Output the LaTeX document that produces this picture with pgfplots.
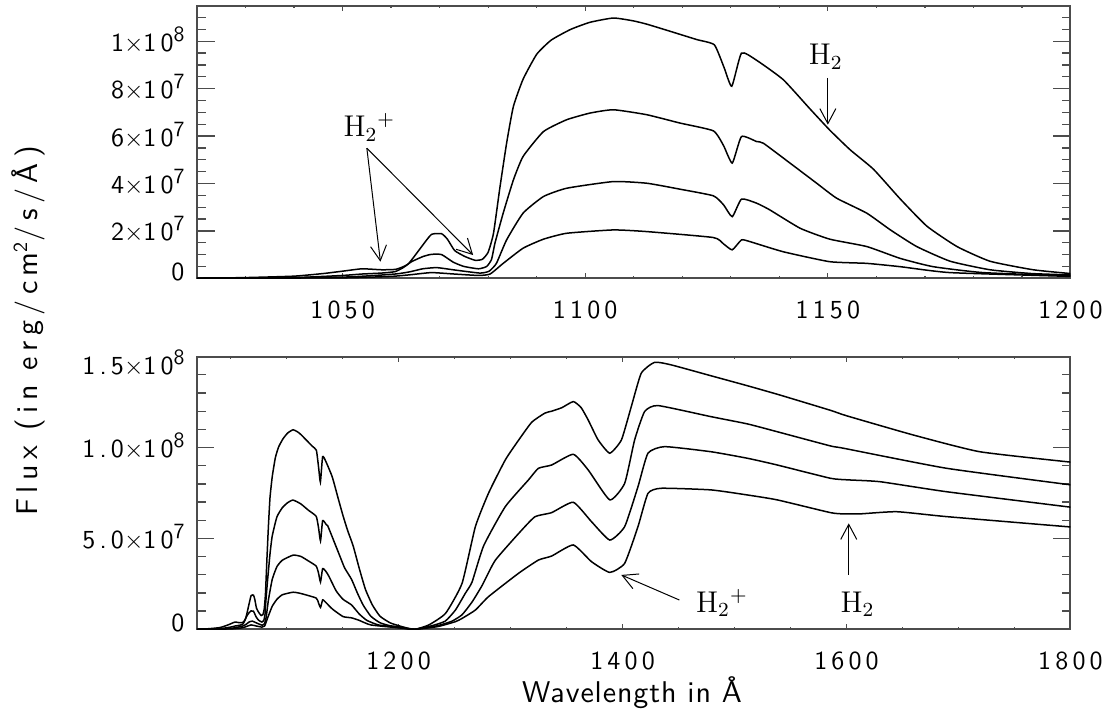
\documentclass[border=0pt]{standalone}
\usepackage{fontspec}
\usepackage{pgfplots}
\pgfplotsset{compat=1.18}
\usepackage{pgfplotstable}
\usetikzlibrary{arrows.meta}

% IDL-like sans for ticks and axis titles
\newfontfamily\hershey{lmsans10-regular.otf}[LetterSpace=16]
\newfontfamily\hersheylab{lmsans10-regular.otf}[LetterSpace=18]
\newfontfamily\hersheyx{lmsans10-regular.otf}[LetterSpace=3]
\newcommand\tickfont{\hershey\fontsize{10.4pt}{12pt}\selectfont}
\newcommand\labfont{\hersheylab\fontsize{12pt}{14pt}\selectfont}
\newcommand\xlabfont{\hersheyx\fontsize{12pt}{14pt}\selectfont}
\newcommand\annfont{\fontsize{12pt}{14pt}\selectfont}
\newcommand\E[1]{\raisebox{4pt}{\fontsize{8.7pt}{9pt}\selectfont #1}}
\newcommand\Hp{$\mathrm{H}_2{}^{+}$}
\newcommand\Hm{$\mathrm{H}_2$}

% flux in units of 1e7 erg/cm2/s/A
\pgfplotstableread{
x y
1020 0
1030 0.03
1040 0.09
1046 0.2
1050 0.3
1054 0.4
1058 0.36
1061 0.38
1063.5 0.6
1066.3 1.34
1068.3 1.85
1070.4 1.88
1071.6 1.65
1073.1 1.17
1075.2 0.92
1077.3 0.76
1078.8 0.8
1080 1.1
1081.1 1.9
1082.4 3.8
1083.8 5.7
1085.2 7.25
1087.2 8.4
1090 9.45
1093 10.05
1097 10.5
1101 10.8
1105.8 10.98
1109.9 10.86
1112.7 10.72
1117.5 10.42
1123 10.07
1126.6 9.85
1128.6 8.9
1130.2 8.1
1132.2 9.5
1135.3 9.2
1140.8 8.38
1146.3 7.15
1150.4 6.25
1154.6 5.42
1159.4 4.6
1164.9 3.35
1170.4 2.2
1176.6 1.34
1183.4 0.72
1192.3 0.36
1200 0.2
1207 0.08
1214.7 0
1227 0.24
1242 0.88
1256.7 2.53
1268.6 5.65
1280.4 7.5
1295.3 9.32
1307.1 10.4
1319 11.4
1330.8 11.9
1336.7 12.0
1346 12.2
1356 12.53
1363 12.2
1369.3 11.52
1378.2 10.42
1388.6 9.69
1399 10.42
1407.8 12.25
1416.7 14.09
1428.6 14.69
1443.4 14.55
1479 13.95
1511.6 13.4
1540 12.9
1585.6 12.05
1600 11.75
1659.7 10.69
1719 9.77
1800 9.2
}\curveA

\pgfplotstableread{
x y
1020 0
1040 0.03
1050 0.12
1054 0.18
1058 0.22
1060.8 0.28
1062.5 0.45
1064.2 0.7
1066.6 0.92
1068.3 1.01
1070.4 1.0
1072.8 0.68
1075 0.5
1078 0.4
1079.7 0.5
1080.7 0.8
1081.4 1.48
1083.1 2.75
1085.2 4.15
1087.2 5.14
1091.4 6.19
1096.2 6.69
1101 6.97
1105.8 7.11
1112.7 6.9
1119.5 6.55
1126.4 6.22
1128.5 5.6
1130.3 4.86
1132.2 5.98
1135.3 5.77
1136.7 5.7
1142.2 4.86
1147.7 4.01
1151.8 3.38
1158 2.75
1162.9 2.04
1168.3 1.34
1175.2 0.72
1183.4 0.36
1192 0.2
1200 0.14
1207 0.05
1214.7 0
1230 0.2
1241.7 0.45
1250.8 1.06
1259.6 1.98
1265.6 2.6
1276 4.6
1295.3 6.75
1316 8.22
1324.9 8.86
1336.7 9.04
1356 9.63
1369.3 8.77
1388.6 7.12
1401.9 8.03
1410.8 10.42
1419.7 11.98
1431.6 12.31
1479 11.7
1511.6 11.3
1538.2 10.87
1585.6 10.09
1597.5 9.96
1689.3 8.86
1800 7.95
}\curveB

\pgfplotstableread{
x y
1020 0
1050 0.05
1060.8 0.18
1064 0.28
1066.5 0.4
1069.4 0.45
1073.1 0.35
1078.3 0.22
1080.2 0.3
1081.7 0.63
1083.8 1.62
1087.2 2.75
1091.4 3.45
1096.2 3.8
1105.8 4.08
1112.7 4.01
1119.5 3.76
1126.4 3.48
1128.5 3.1
1130.3 2.6
1132.2 3.34
1135.3 3.17
1138 2.89
1144.3 2.11
1150.4 1.65
1158 1.34
1164.9 0.84
1171.7 0.49
1182 0.24
1200 0.1
1214.7 0
1235 0.2
1247.8 0.45
1256.7 0.8
1265.6 1.5
1274.5 2.4
1286.4 3.8
1310 5.46
1322 6.2
1336.7 6.42
1356 6.99
1372.3 5.92
1388.6 4.91
1401.9 5.65
1413.8 7.85
1422.7 9.69
1437.5 10.05
1479 9.77
1511.6 9.41
1538.2 9.04
1585.6 8.31
1602 8.22
1630 8.12
1689.3 7.57
1800 6.72
}\curveC

\pgfplotstableread{
x y
1020 0
1050 0.02
1060 0.08
1064 0.15
1068.3 0.24
1073 0.18
1078 0.12
1080.4 0.18
1083.1 0.63
1087.2 1.27
1091.4 1.65
1096.2 1.9
1105.8 2.04
1112.7 1.97
1126.4 1.72
1128.5 1.45
1130.3 1.2
1132.2 1.62
1133.9 1.55
1140.8 1.12
1150.4 0.7
1158 0.63
1164.9 0.49
1175.2 0.24
1200 0.08
1214.7 0
1235 0.15
1250.8 0.42
1256.7 0.6
1268.6 1.06
1280.4 1.8
1307.1 3.08
1324.9 3.81
1336.7 4.03
1356 4.64
1372.3 3.72
1388.6 3.13
1401.9 3.63
1413.8 5.65
1422.7 7.48
1434.5 7.76
1479 7.67
1511.6 7.39
1538.2 7.12
1585.6 6.42
1597.5 6.35
1612 6.35
1644.9 6.47
1689.3 6.2
1800 5.63
}\curveD

\pgfplotsset{
  idl/.style={
    scale only axis, width=349.4pt, height=109.04pt,
    xmin=1020,
    axis line style={black!70, line width=0.8pt},
    tick style={black!70, line width=0.5pt},
    xtick style={/pgfplots/major tick length=2.2pt, /pgfplots/minor tick length=1.1pt},
    ytick style={/pgfplots/major tick length=7pt, /pgfplots/minor tick length=3.5pt},
    xticklabel style={font=\tickfont, anchor=base, inner sep=0pt, yshift=-15.9pt},
    yticklabel style={font=\tickfont, anchor=base east, inner sep=0pt, xshift=-4.8pt, yshift=-4pt},
  },
  spec/.style={black, line width=0.6pt, no markers, smooth, tension=0.3},
}
\tikzset{arr/.style={-{Straight Barb[length=6pt,width=6.4pt]}, line width=0.4pt, black}}

\begin{document}
\begin{tikzpicture}
\path[use as bounding box] (0,0) rectangle (445.6pt,-285.2pt);

% top panel: 1020-1200 A
\begin{axis}[idl,
  at={(78.8pt,-2.28pt)}, anchor=north west,
  xmax=1200, ymin=0, ymax=11.5,
  xtick={1050,1100,1150,1200},
  xticklabels={1050,1100,1150,1200},
  minor xtick={1020,1030,...,1200},
  ytick={0,2,4,6,8,10},
  minor ytick={0,0.5,...,11.5},
  yticklabels={\raisebox{3.2pt}{0}, 2$\times$10\E{7}, 4$\times$10\E{7}, 6$\times$10\E{7}, 8$\times$10\E{7}, 1$\times$10\E{8}},
]
\addplot[spec] table {\curveA};
\addplot[spec] table {\curveB};
\addplot[spec] table {\curveC};
\addplot[spec] table {\curveD};

\node[anchor=base west, inner sep=0pt, font=\annfont] at (axis cs:1050.1,5.98) {\Hp};
\draw[arr] (axis cs:1055,5.49) -- (axis cs:1057.8,0.70);
\draw[arr] (axis cs:1055,5.49) -- (axis cs:1076.9,0.98);
\node[anchor=base west, inner sep=0pt, font=\annfont] at (axis cs:1146,9.01) {\Hm};
\draw[arr] (axis cs:1150,8.45) -- (axis cs:1150,6.48);
\end{axis}

% bottom panel: 1020-1800 A
\begin{axis}[idl,
  at={(78.8pt,-142.68pt)}, anchor=north west,
  xmax=1800, ymin=0, ymax=15,
  xtick={1200,1400,1600,1800},
  xticklabels={1200,1400,1600,1800},
  minor xtick={1050,1100,...,1800},
  ytick={0,5,10,15},
  minor ytick={0,1,...,15},
  yticklabels={\raisebox{3.2pt}{0}, 5.0$\times$10\E{7}, 1.0$\times$10\E{8}, \raisebox{-3.3pt}{1.5$\times$10\E{8}}},
]
\addplot[spec] table {\curveA};
\addplot[spec] table {\curveB};
\addplot[spec] table {\curveC};
\addplot[spec] table {\curveD};

\node[anchor=base west, inner sep=0pt, font=\annfont] at (axis cs:1465.3,0.95) {\Hp};
\draw[arr] (axis cs:1450.8,1.61) -- (axis cs:1398.9,2.99);
\node[anchor=base west, inner sep=0pt, font=\annfont] at (axis cs:1594.2,0.95) {\Hm};
\draw[arr] (axis cs:1602,2.99) -- (axis cs:1602,5.83);
\end{axis}

\node[rotate=90, anchor=base, inner sep=0pt, font=\labfont] at (15.2pt,-132.4pt) {Flux (in erg/cm\textsuperscript{2}/s/Å)};
\node[anchor=base, inner sep=0pt, font=\xlabfont] at (252.8pt,-281.2pt) {Wavelength in Å};
\end{tikzpicture}
\end{document}
